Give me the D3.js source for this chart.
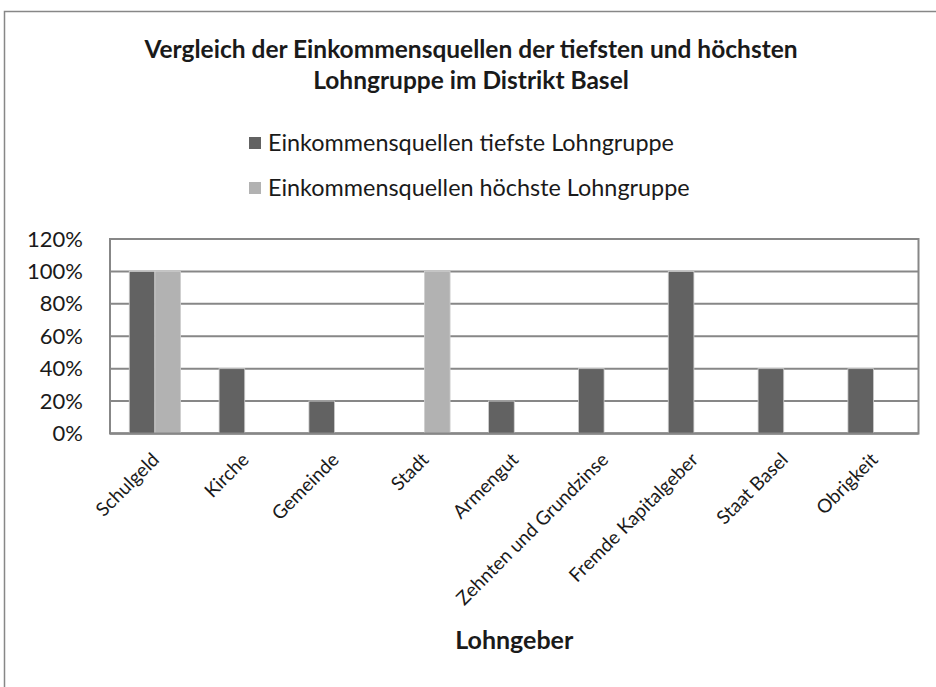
<!DOCTYPE html>
<html>
<head>
<meta charset="utf-8">
<script src="https://cdn.jsdelivr.net/npm/d3@7"></script>
<style>
  body { margin: 0; background: #fff; }
  text { font-family: Lato, "Open Sans", sans-serif; fill: #1a1a1a; }
</style>
</head>
<body>
<svg id="chart" width="936" height="687"></svg>
<script>
// data
var categories = ['Schulgeld', 'Kirche', 'Gemeinde', 'Stadt', 'Armengut',
                  'Zehnten und Grundzinse', 'Fremde Kapitalgeber', 'Staat Basel', 'Obrigkeit'];
var tiefste = [1.0, 0.4, 0.2, 0, 0.2, 0.4, 1.0, 0.4, 0.4];
var hoechste = [1.0, 0, 0, 1.0, 0, 0, 0, 0, 0];
var seriesNames = ['Einkommensquellen tiefste Lohngruppe', 'Einkommensquellen höchste Lohngruppe'];
var yTicks = [0, 0.2, 0.4, 0.6, 0.8, 1.0, 1.2];
var titleLines = ['Vergleich der Einkommensquellen der tiefsten und höchsten', 'Lohngruppe im Distrikt Basel'];
var xTitle = 'Lohngeber';

var colors = ['#626262', '#b2b2b2'];
var gridColor = '#878787';

var svg = d3.select('#chart');

// outer chart border
svg.append('rect')
  .attr('x', 4.5).attr('y', 11.5)
  .attr('width', 940).attr('height', 700)
  .attr('fill', 'none').attr('stroke', gridColor).attr('stroke-width', 1.5);

// title
svg.append('g').selectAll('text').data(titleLines).enter().append('text')
  .attr('x', 471)
  .attr('y', function(d, i){ return 58 + i * 31; })
  .attr('text-anchor', 'middle')
  .attr('font-weight', 'bold')
  .attr('font-size', 24.5)
  .text(function(d){ return d; });

// legend
var legend = svg.append('g').selectAll('g').data(seriesNames).enter().append('g')
  .attr('transform', function(d, i){ return 'translate(249,' + (143 + i * 45) + ')'; });
legend.append('rect')
  .attr('x', 0).attr('y', -6).attr('width', 12).attr('height', 12)
  .attr('fill', function(d, i){ return colors[i]; });
legend.append('text')
  .attr('x', 19).attr('dy', '0.35em')
  .attr('font-size', 23.4)
  .text(function(d){ return d; });

// plot area
var pLeft = 110, pRight = 918.5, pTop = 239, pBottom = 433.5;

var x = d3.scaleBand().domain(categories).range([pLeft, pRight]);
var y = d3.scaleLinear().domain([0, 1.2]).range([pBottom, pTop]);
// Excel gap width 150%
var barW = x.bandwidth() / 3.5;

// gridlines
svg.append('g').selectAll('line').data(yTicks).enter().append('line')
  .attr('x1', pLeft).attr('x2', pRight)
  .attr('y1', function(d){ return y(d); })
  .attr('y2', function(d){ return y(d); })
  .attr('stroke', gridColor).attr('stroke-width', 2);

// plot border
svg.append('rect')
  .attr('x', pLeft).attr('y', pTop)
  .attr('width', pRight - pLeft).attr('height', pBottom - pTop)
  .attr('fill', 'none').attr('stroke', gridColor).attr('stroke-width', 2);

// bars
var series = [tiefste, hoechste];
series.forEach(function(vals, s){
  var rows = vals.map(function(v, i){ return {cat: categories[i], value: v}; })
                 .filter(function(d){ return d.value > 0; });
  svg.append('g').selectAll('rect').data(rows).enter().append('rect')
    .attr('x', function(d){ return x(d.cat) + x.bandwidth() / 2 - barW + s * barW; })
    .attr('y', function(d){ return y(d.value); })
    .attr('width', barW)
    .attr('height', function(d){ return y(0) - y(d.value); })
    .attr('fill', colors[s])
    .attr('stroke', '#cfcfcf').attr('stroke-width', 0.8);
});

// redraw the baseline over the bars
svg.append('line')
  .attr('x1', pLeft).attr('x2', pRight)
  .attr('y1', pBottom).attr('y2', pBottom)
  .attr('stroke', gridColor).attr('stroke-width', 2);

// y axis labels
var yAxis = d3.axisLeft(y).tickValues(yTicks).tickFormat(d3.format('.0%')).tickSize(0).tickPadding(27);
var yg = svg.append('g').attr('transform', 'translate(' + pLeft + ',0)').call(yAxis);
yg.select('.domain').remove();
yg.selectAll('text').attr('font-size', 22).attr('fill', '#1a1a1a')
  .style('font-family', 'Lato, "Open Sans", sans-serif');

// x axis labels rotated
var xAxis = d3.axisBottom(x).tickSize(0).tickPadding(0);
var xg = svg.append('g').attr('transform', 'translate(0,' + pBottom + ')').call(xAxis);
xg.select('.domain').remove();
xg.selectAll('text')
  .attr('font-size', 19).attr('fill', '#1a1a1a')
  .style('font-family', 'Lato, "Open Sans", sans-serif')
  .attr('text-anchor', 'end')
  .attr('dy', '0.7em')
  .attr('transform', 'translate(-4,18) rotate(-45)');

// x axis title
svg.append('text')
  .attr('x', (pLeft + pRight) / 2).attr('y', 649)
  .attr('text-anchor', 'middle')
  .attr('font-weight', 'bold')
  .attr('font-size', 25)
  .text(xTitle);
</script>
</body>
</html>
